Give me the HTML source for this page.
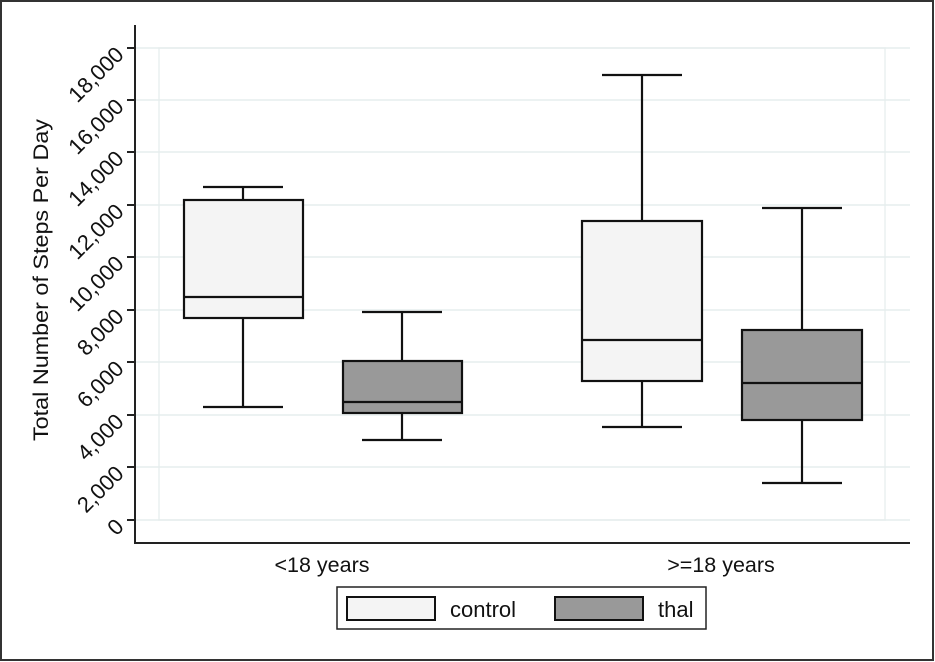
<!DOCTYPE html>
<html><head><style>body{margin:0;background:#fff}svg{display:block}text{font-family:"Liberation Sans",Arial,sans-serif;fill:#111}</style></head><body>
<svg width="935" height="662" viewBox="0 0 935 662">
<rect x="0" y="0" width="935" height="662" fill="#fff"/>
<rect x="1" y="1" width="932" height="659" fill="none" stroke="#333" stroke-width="2"/>
<rect x="159" y="48" width="726" height="472" fill="none" stroke="#eaf0f0" stroke-width="1.5"/>
<g stroke="#e6eded" stroke-width="1.5">
<line x1="135" y1="48" x2="910" y2="48"/><line x1="135" y1="100" x2="910" y2="100"/><line x1="135" y1="152" x2="910" y2="152"/><line x1="135" y1="205" x2="910" y2="205"/><line x1="135" y1="257" x2="910" y2="257"/><line x1="135" y1="310" x2="910" y2="310"/><line x1="135" y1="362" x2="910" y2="362"/><line x1="135" y1="415" x2="910" y2="415"/><line x1="135" y1="467" x2="910" y2="467"/><line x1="135" y1="520" x2="910" y2="520"/>
</g>
<g stroke="#222" stroke-width="2" fill="none">
<polyline points="135,25 135,543 910,543"/>
<line x1="127" y1="48" x2="135" y2="48"/><line x1="127" y1="100" x2="135" y2="100"/><line x1="127" y1="152" x2="135" y2="152"/><line x1="127" y1="205" x2="135" y2="205"/><line x1="127" y1="257" x2="135" y2="257"/><line x1="127" y1="310" x2="135" y2="310"/><line x1="127" y1="362" x2="135" y2="362"/><line x1="127" y1="415" x2="135" y2="415"/><line x1="127" y1="467" x2="135" y2="467"/><line x1="127" y1="520" x2="135" y2="520"/>
</g>
<g font-size="22" text-anchor="end">
<text transform="translate(125,56) rotate(-45)">18,000</text>
<text transform="translate(125,108) rotate(-45)">16,000</text>
<text transform="translate(125,160) rotate(-45)">14,000</text>
<text transform="translate(125,213) rotate(-45)">12,000</text>
<text transform="translate(125,265) rotate(-45)">10,000</text>
<text transform="translate(125,318) rotate(-45)">8,000</text>
<text transform="translate(125,370) rotate(-45)">6,000</text>
<text transform="translate(125,423) rotate(-45)">4,000</text>
<text transform="translate(125,475) rotate(-45)">2,000</text>
<text transform="translate(125,528) rotate(-45)">0</text>
</g>
<text transform="translate(48,280) rotate(-90)" font-size="21" text-anchor="middle" textLength="322" lengthAdjust="spacingAndGlyphs">Total Number of Steps Per Day</text>
<g stroke="#111" stroke-width="2.2">
<line x1="243" y1="187" x2="243" y2="200"/><line x1="203" y1="187" x2="283" y2="187"/>
<line x1="243" y1="318" x2="243" y2="407"/><line x1="203" y1="407" x2="283" y2="407"/>
<rect x="184" y="200" width="119" height="118" fill="#f4f4f4"/><line x1="184" y1="297" x2="303" y2="297"/>
<line x1="402" y1="312" x2="402" y2="361"/><line x1="362" y1="312" x2="442" y2="312"/>
<line x1="402" y1="413" x2="402" y2="440"/><line x1="362" y1="440" x2="442" y2="440"/>
<rect x="343" y="361" width="119" height="52" fill="#999"/><line x1="343" y1="402" x2="462" y2="402"/>
<line x1="642" y1="75" x2="642" y2="221"/><line x1="602" y1="75" x2="682" y2="75"/>
<line x1="642" y1="381" x2="642" y2="427"/><line x1="602" y1="427" x2="682" y2="427"/>
<rect x="582" y="221" width="120" height="160" fill="#f4f4f4"/><line x1="582" y1="340" x2="702" y2="340"/>
<line x1="802" y1="208" x2="802" y2="330"/><line x1="762" y1="208" x2="842" y2="208"/>
<line x1="802" y1="420" x2="802" y2="483"/><line x1="762" y1="483" x2="842" y2="483"/>
<rect x="742" y="330" width="120" height="90" fill="#999"/><line x1="742" y1="383" x2="862" y2="383"/>
</g>
<text x="322" y="572" font-size="21.5" text-anchor="middle">&lt;18 years</text>
<text x="721" y="572" font-size="21.5" text-anchor="middle">&gt;=18 years</text>
<rect x="337" y="587" width="369" height="42" fill="#fff" stroke="#222" stroke-width="1.5"/>
<rect x="347" y="597" width="88" height="23" fill="#f4f4f4" stroke="#111" stroke-width="2"/>
<rect x="555" y="597" width="88" height="23" fill="#999" stroke="#111" stroke-width="2"/>
<text x="450" y="617" font-size="22">control</text>
<text x="658" y="617" font-size="22">thal</text>
</svg>
</body></html>
